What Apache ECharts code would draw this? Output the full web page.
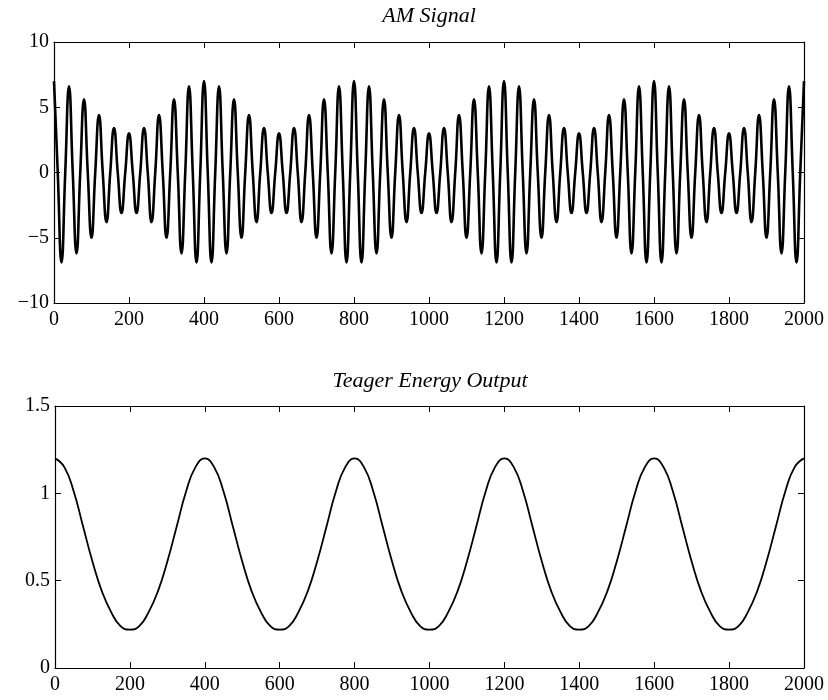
<!DOCTYPE html>
<html><head><meta charset="utf-8">
<script src="https://cdn.jsdelivr.net/npm/echarts@6/dist/echarts.min.js"></script>
<style>html,body{margin:0;padding:0;background:#fff}#c{width:828px;height:700px}</style>
</head><body><div id="c"></div>
<script>
// ---- data ----
const amTitle = 'AM Signal';
const teTitle = 'Teager Energy Output';

// AM signal: samples every 10 (peaks, zero crossings, troughs)
const amStep = 10;
const amValues = [
  7.0, 0, -6.9, 0, 6.6, 0, -6.2, 0, 5.6, 0, -5.0, 0, 4.4, 0, -3.8, 0, 3.4, 0, -3.1, 0,
  3.0, 0, -3.1, 0, 3.4, 0, -3.8, 0, 4.4, 0, -5.0, 0, 5.6, 0, -6.2, 0, 6.6, 0, -6.9, 0,
  7.0, 0, -6.9, 0, 6.6, 0, -6.2, 0, 5.6, 0, -5.0, 0, 4.4, 0, -3.8, 0, 3.4, 0, -3.1, 0,
  3.0, 0, -3.1, 0, 3.4, 0, -3.8, 0, 4.4, 0, -5.0, 0, 5.6, 0, -6.2, 0, 6.6, 0, -6.9, 0,
  7.0, 0, -6.9, 0, 6.6, 0, -6.2, 0, 5.6, 0, -5.0, 0, 4.4, 0, -3.8, 0, 3.4, 0, -3.1, 0,
  3.0, 0, -3.1, 0, 3.4, 0, -3.8, 0, 4.4, 0, -5.0, 0, 5.6, 0, -6.2, 0, 6.6, 0, -6.9, 0,
  7.0, 0, -6.9, 0, 6.6, 0, -6.2, 0, 5.6, 0, -5.0, 0, 4.4, 0, -3.8, 0, 3.4, 0, -3.1, 0,
  3.0, 0, -3.1, 0, 3.4, 0, -3.8, 0, 4.4, 0, -5.0, 0, 5.6, 0, -6.2, 0, 6.6, 0, -6.9, 0,
  7.0, 0, -6.9, 0, 6.6, 0, -6.2, 0, 5.6, 0, -5.0, 0, 4.4, 0, -3.8, 0, 3.4, 0, -3.1, 0,
  3.0, 0, -3.1, 0, 3.4, 0, -3.8, 0, 4.4, 0, -5.0, 0, 5.6, 0, -6.2, 0, 6.6, 0, -6.9, 0,
  7.0
];

// Teager energy output: samples every 25
const teStep = 25;
const teValues = [
  1.20, 1.15, 1.01, 0.81, 0.61, 0.44, 0.32, 0.24, 0.22, 0.24, 0.32, 0.44, 0.61, 0.81, 1.01, 1.15,
  1.20, 1.15, 1.01, 0.81, 0.61, 0.44, 0.32, 0.24, 0.22, 0.24, 0.32, 0.44, 0.61, 0.81, 1.01, 1.15,
  1.20, 1.15, 1.01, 0.81, 0.61, 0.44, 0.32, 0.24, 0.22, 0.24, 0.32, 0.44, 0.61, 0.81, 1.01, 1.15,
  1.20, 1.15, 1.01, 0.81, 0.61, 0.44, 0.32, 0.24, 0.22, 0.24, 0.32, 0.44, 0.61, 0.81, 1.01, 1.15,
  1.20, 1.15, 1.01, 0.81, 0.61, 0.44, 0.32, 0.24, 0.22, 0.24, 0.32, 0.44, 0.61, 0.81, 1.01, 1.15,
  1.20
];

const xRange = [0, 2000];
const xInterval = 200;
const amYRange = [-10, 10];
const amYInterval = 5;
const teYRange = [0, 1.5];
const teYInterval = 0.5;

// ---- chart ----
const FONT = '"Liberation Serif", "DejaVu Serif", serif';
const amData = amValues.map((v, i) => [i * amStep, v]);
const teData = teValues.map((v, i) => [i * teStep, v]);
const plainFmt = v => String(v).replace('-', '\u2212');

function xAx(grid, pos, labels) {
  return {
    type: 'value', gridIndex: grid, position: pos,
    min: xRange[0], max: xRange[1], interval: xInterval,
    axisLine: { show: true, onZero: false, lineStyle: { color: '#000', width: 1.2 } },
    axisTick: { show: true, inside: true, length: 6, lineStyle: { color: '#000', width: 1 } },
    axisLabel: { show: labels, color: '#000', fontFamily: FONT, fontSize: 20, margin: 7, formatter: plainFmt },
    splitLine: { show: false }
  };
}
function yAx(grid, pos, range, interval, labels) {
  return {
    type: 'value', gridIndex: grid, position: pos,
    min: range[0], max: range[1], interval: interval,
    axisLine: { show: true, onZero: false, lineStyle: { color: '#000', width: 1.2 } },
    axisTick: { show: true, inside: true, length: 6, lineStyle: { color: '#000', width: 1 } },
    axisLabel: { show: labels, color: '#000', fontFamily: FONT, fontSize: 20, margin: 5, formatter: plainFmt },
    splitLine: { show: false }
  };
}

const chart = echarts.init(document.getElementById('c'), null, { renderer: 'canvas' });
chart.setOption({
  backgroundColor: '#fff',
  animation: false,
  title: [
    { text: amTitle, left: 429, top: 5, textAlign: 'center', padding: 0,
      textStyle: { fontFamily: FONT, fontStyle: 'italic', fontWeight: 'normal', fontSize: 22, color: '#000' } },
    { text: teTitle, left: 430, top: 370, textAlign: 'center', padding: 0,
      textStyle: { fontFamily: FONT, fontStyle: 'italic', fontWeight: 'normal', fontSize: 22, color: '#000' } }
  ],
  grid: [
    { left: 54, right: 24, top: 42, height: 261, show: false },
    { left: 55, right: 24, top: 406, height: 262, show: false }
  ],
  xAxis: [xAx(0, 'bottom', true), xAx(0, 'top', false), xAx(1, 'bottom', true), xAx(1, 'top', false)],
  yAxis: [
    yAx(0, 'left', amYRange, amYInterval, true), yAx(0, 'right', amYRange, amYInterval, false),
    yAx(1, 'left', teYRange, teYInterval, true), yAx(1, 'right', teYRange, teYInterval, false)
  ],
  series: [
    { type: 'line', xAxisIndex: 0, yAxisIndex: 0, data: amData, smooth: 0.5, showSymbol: false,
      lineStyle: { color: '#000', width: 2.6 }, silent: true },
    { type: 'line', xAxisIndex: 2, yAxisIndex: 2, data: teData, smooth: 0.5, showSymbol: false,
      lineStyle: { color: '#000', width: 1.8 }, silent: true }
  ]
});
</script>
</body></html>
